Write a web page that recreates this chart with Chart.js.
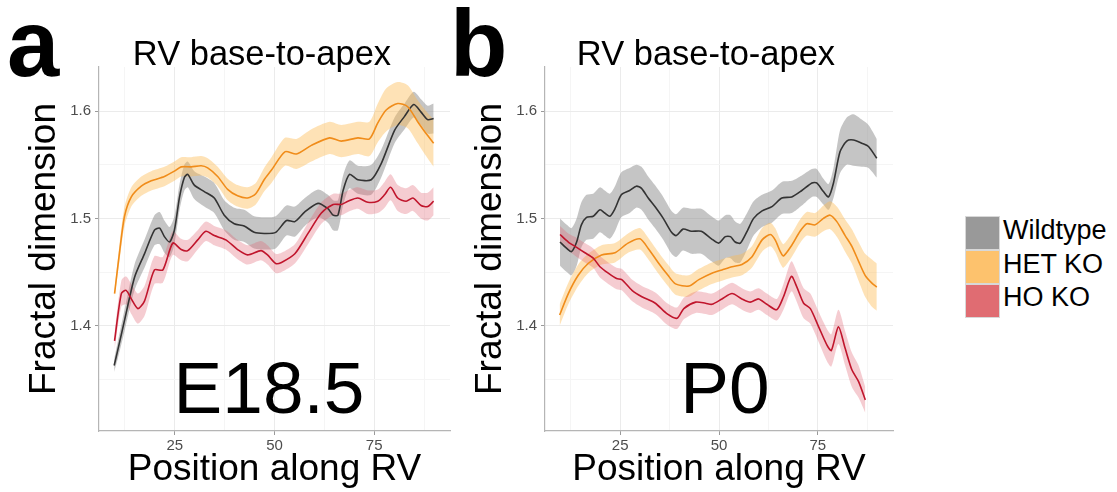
<!DOCTYPE html>
<html><head><meta charset="utf-8">
<script src="https://cdn.jsdelivr.net/npm/chart.js@4/dist/chart.umd.min.js"></script>
<style>
html,body{margin:0;padding:0;background:#fff}
body{width:1117px;height:492px;overflow:hidden;position:relative;font-family:"Liberation Sans",Arial,sans-serif;color:#000}
.t{position:absolute;white-space:nowrap;line-height:1}
canvas{position:absolute;top:0}
.sw{position:absolute;left:965px;width:35px;height:34px;box-sizing:border-box;border:1px solid #d8d8d8}
</style></head><body>

<canvas id="ca" width="460" height="492" style="left:0"></canvas>
<canvas id="cb" width="440" height="492" style="left:470px"></canvas>

<div class="t" style="left:7px;top:-3px;font-size:94px;font-weight:bold">a</div>
<div class="t" style="left:450px;top:-3px;font-size:94px;font-weight:bold">b</div>
<div class="t" style="left:112px;width:300px;text-align:center;top:36px;font-size:34.5px">RV base-to-apex</div>
<div class="t" style="left:556px;width:300px;text-align:center;top:36px;font-size:34.5px">RV base-to-apex</div>
<div class="t" style="left:119px;width:300px;text-align:center;top:351px;font-size:73px">E18.5</div>
<div class="t" style="left:575px;width:300px;text-align:center;top:351px;font-size:73px">P0</div>

<div class="sw" style="top:216px;background:#999999"></div>
<div class="sw" style="top:250px;background:#fdc26d"></div>
<div class="sw" style="top:284px;background:#e06c72"></div>
<div class="t" style="left:1003px;top:217px;font-size:27px">Wildtype</div>
<div class="t" style="left:1003px;top:251px;font-size:27px">HET KO</div>
<div class="t" style="left:1003px;top:284px;font-size:27px">HO KO</div>

<script>
// ---------- Panel a : E18.5 ----------
const aWtX = [9.8,10.75,12.4,14.9,17.4, 19.9,21.2,22.4,23.7,24.9, 26.2,27.4,28.25,29.9,32.4, 34.9,37.4,39.9,42.4,44.9, 47.4,50.3,53,55.1,57.6, 60.9,63.4,64.7,65.9,67.2, 68.8,70.9,74.25,76.75,80.1, 82.6,84.9,86.75,88.4,89.9];
const aWtY = [1.363,1.378,1.405,1.445,1.467, 1.489,1.491,1.483,1.478,1.489, 1.520,1.538,1.541,1.531,1.525, 1.519,1.503,1.495,1.493,1.487, 1.486,1.487,1.498,1.497,1.506, 1.514,1.509,1.503,1.503,1.526, 1.541,1.536,1.536,1.551,1.582, 1.595,1.606,1.599,1.592,1.593];
const aWtSe = [0.006,0.008,0.010,0.012,0.013, 0.014,0.015,0.015,0.014,0.013, 0.012,0.012,0.012,0.013,0.014, 0.014,0.014,0.015,0.015,0.015, 0.015,0.015,0.014,0.014,0.013, 0.013,0.013,0.014,0.014,0.014, 0.013,0.013,0.014,0.013,0.012, 0.012,0.012,0.012,0.013,0.014];

const aHetX = [9.9,11.2,12.4,14.1,16.6, 19.1,22.4,24.9,26.6,29.1, 31.6,33.25,35.75,38.25,40.75, 43.25,45.3,47.4,49.25,52.6, 55.5,59.25,63.8,66.75,70.9, 73.8,75.9,78,80.9,83.4, 85.9,88,89.9];
const aHetY = [1.430,1.470,1.502,1.520,1.530, 1.535,1.539,1.544,1.548,1.548, 1.549,1.547,1.539,1.527,1.521, 1.519,1.523,1.536,1.545,1.562, 1.560,1.568,1.575,1.572,1.575, 1.574,1.589,1.601,1.607,1.604, 1.590,1.579,1.570];
const aHetSe = [0.004,0.008,0.009,0.009,0.009, 0.009,0.009,0.009,0.009,0.009, 0.009,0.009,0.009,0.010,0.010, 0.010,0.010,0.011,0.012,0.013, 0.014,0.015,0.015,0.015,0.015, 0.016,0.018,0.020,0.020,0.020, 0.020,0.021,0.022];

const aHoX = [9.9,11.6,12.8,14.1,15.75, 17.4,19.9,22,24.5,26.6, 28.25,30.75,32.8,34.9,37.8, 40.75,43.25,46.6,48.25,50.3, 51.75,55.1,58.4,61.75,64.7, 66.75,68.4,70.9,73.4,75.9, 77.6,79.1,80.9,83,84.7, 86.75,88.4,89.9];
const aHoY = [1.386,1.430,1.433,1.425,1.416, 1.423,1.452,1.452,1.477,1.471, 1.470,1.480,1.488,1.484,1.480, 1.471,1.466,1.470,1.466,1.458, 1.459,1.467,1.486,1.505,1.513, 1.513,1.516,1.519,1.515,1.516, 1.522,1.529,1.519,1.516,1.519, 1.512,1.511,1.516];
const aHoSe = [0.008,0.012,0.013,0.014,0.014, 0.014,0.013,0.012,0.011,0.010, 0.010,0.009,0.009,0.009,0.009, 0.009,0.009,0.009,0.009,0.009, 0.009,0.009,0.010,0.010,0.010, 0.010,0.010,0.010,0.011,0.011, 0.012,0.012,0.012,0.012,0.012, 0.012,0.013,0.013];

// ---------- Panel b : P0 ----------
const bWtX = [9.8,11.5,12.7,14,15.2, 16.5,18.2,19.9,21.1,22.4, 23.7,25.3,27.4,29.1,30.4, 32.1,33.8,35.9,38,39.2, 40.9,43,45.5,48.1,49.9, 51.6,52.9,54.1,55.4,57.1, 58.75,60.9,63.4,65.9,68.4, 70.95,73.5,74.7,76.4,77.7, 78.95,80.6,82.3,84,86.1, 87.8,89.9];
const bWtY = [1.478,1.472,1.469,1.478,1.494, 1.501,1.502,1.508,1.505,1.502, 1.509,1.522,1.526,1.530,1.528, 1.519,1.511,1.500,1.487,1.484, 1.490,1.488,1.488,1.481,1.477, 1.483,1.483,1.478,1.477,1.488, 1.500,1.507,1.511,1.519,1.520, 1.526,1.533,1.533,1.525,1.520, 1.533,1.562,1.572,1.573,1.570, 1.567,1.556];
const bWtSe = [0.022,0.022,0.022,0.022,0.021, 0.021,0.021,0.021,0.021,0.021, 0.021,0.021,0.021,0.020,0.020, 0.020,0.020,0.020,0.020,0.020, 0.020,0.021,0.021,0.021,0.021, 0.020,0.020,0.019,0.018,0.017, 0.016,0.015,0.015,0.015,0.015, 0.014,0.013,0.013,0.012,0.012, 0.014,0.020,0.022,0.024,0.022, 0.020,0.018];

const bHetX = [9.7,11.9,14.4,16.9,20.3, 23.7,27,30,32.1,34.6, 37.1,39,42.4,44.9,48.2, 50.75,53.3,55.8,58.3,60.9, 62.96,64.2,65.5,66.3,68.4, 70.5,72.2,74.3,76.4,78.1, 79.8,81.9,83.6,85.3,86.95, 88.6,89.9];
const bHetY = [1.410,1.430,1.447,1.458,1.466, 1.468,1.477,1.481,1.472,1.459, 1.447,1.439,1.437,1.443,1.449, 1.452,1.455,1.457,1.464,1.480, 1.485,1.480,1.469,1.465,1.475, 1.488,1.495,1.494,1.500,1.503, 1.497,1.484,1.474,1.460,1.447, 1.440,1.436];
const bHetSe = [0.010,0.010,0.010,0.009,0.009, 0.009,0.009,0.010,0.010,0.010, 0.010,0.010,0.010,0.010,0.010, 0.010,0.010,0.010,0.010,0.011, 0.011,0.011,0.011,0.011,0.011, 0.011,0.011,0.011,0.012,0.013, 0.014,0.015,0.016,0.018,0.020, 0.022,0.022];

const bHoX = [9.8,11.9,14,16.1,18.2, 19.9,22,24.1,25.4,28, 30.5,33.9,36.9,39.4,41.1, 44.1,46.6,48.2,50.75,53.3, 55.8,57.9,60,62.1,64.6, 66.3,68.3,69.7,71.4,73.1, 75.2,77.3,78.4,80.2,81.9, 83.6,85.3,87];
const bHoY = [1.485,1.478,1.473,1.468,1.463, 1.455,1.449,1.444,1.443,1.433, 1.427,1.421,1.411,1.407,1.416, 1.422,1.421,1.420,1.425,1.430, 1.425,1.422,1.425,1.420,1.415, 1.427,1.446,1.436,1.421,1.416, 1.399,1.382,1.377,1.399,1.379, 1.359,1.348,1.331];
const bHoSe = [0.008,0.008,0.009,0.009,0.009, 0.010,0.010,0.010,0.010,0.010, 0.010,0.010,0.010,0.010,0.010, 0.010,0.010,0.010,0.010,0.010, 0.010,0.010,0.010,0.010,0.010, 0.012,0.014,0.014,0.014,0.014, 0.014,0.015,0.015,0.016,0.016, 0.016,0.015,0.012];

const xTickLabels = [25, 50, 75];
const yTickLabels = [1.4, 1.5, 1.6];

const LINE = { wt: '#333333', het: '#f08c1a', ho: '#c0152c' };
const BAND = { wt: 'rgba(140,140,140,0.5)', het: 'rgba(253,185,80,0.42)', ho: 'rgba(225,100,115,0.33)' };

function pts(xs, ys, se, sign) {
  return xs.map((x, i) => ({ x: x, y: ys[i] + (se ? sign * se[i] : 0) }));
}
function lineDs(xs, ys, col) {
  return { data: pts(xs, ys), borderColor: col, borderWidth: 1.6, pointRadius: 0, tension: 0.25, fill: false };
}
function bandDs(xs, ys, se, col) {
  return [
    { data: pts(xs, ys, se, 1), borderWidth: 0, borderColor: 'rgba(0,0,0,0)', pointRadius: 0, tension: 0.25, fill: false },
    { data: pts(xs, ys, se, -1), borderWidth: 0, borderColor: 'rgba(0,0,0,0)', pointRadius: 0, tension: 0.25, fill: '-1', backgroundColor: col }
  ];
}

function isMajorX(v) { return xTickLabels.some(t => Math.abs(t - v) < 1e-6); }
function isMajorY(v) { return yTickLabels.some(t => Math.abs(t - v) < 1e-6); }

function makeChart(id, sets, yWidth, yTitlePad, padRight) {
  const [wx, wy, ws, hx, hy, hs, ox, oy, os] = sets;
  const datasets = [
    lineDs(ox, oy, LINE.ho),
    lineDs(hx, hy, LINE.het),
    lineDs(wx, wy, LINE.wt),
    ...bandDs(ox, oy, os, BAND.ho),
    ...bandDs(hx, hy, hs, BAND.het),
    ...bandDs(wx, wy, ws, BAND.wt)
  ];
  return new Chart(document.getElementById(id), {
    type: 'line',
    data: { datasets },
    options: {
      responsive: false, animation: false, events: [],
      layout: { padding: { top: 67, right: padRight, left: 0, bottom: 0 } },
      plugins: { legend: { display: false }, tooltip: { enabled: false }, filler: { propagate: false } },
      scales: {
        x: {
          type: 'linear', min: 6, max: 94,
          afterFit(s) { s.height = 61; },
          ticks: {
            stepSize: 12.5, includeBounds: false, autoSkip: false, maxRotation: 0, padding: 2,
            color: '#4d4d4d', font: { family: 'Liberation Sans', size: 15 },
            callback: v => isMajorX(v) ? String(Math.round(v)) : ''
          },
          grid: {
            color: c => (c.tick && isMajorX(c.tick.value)) ? '#ebebeb' : '#f5f5f5',
            tickColor: c => (c.tick && isMajorX(c.tick.value)) ? '#9a9a9a' : 'rgba(0,0,0,0)',
            tickLength: 4, lineWidth: 1
          },
          border: { display: true, color: '#b5b5b5', width: 1.2 },
          title: {
            display: true, text: 'Position along RV', color: '#000',
            font: { family: 'Liberation Sans', size: 37, lineHeight: 1 },
            padding: { top: 0, bottom: 4 }
          }
        },
        y: {
          type: 'linear', min: 1.302, max: 1.641,
          afterFit(s) { s.width = yWidth; },
          ticks: {
            stepSize: 0.05, includeBounds: false, autoSkip: false, padding: 4,
            color: '#4d4d4d', font: { family: 'Liberation Sans', size: 15 },
            callback: v => isMajorY(v) ? v.toFixed(1) : ''
          },
          grid: {
            color: c => (c.tick && isMajorY(c.tick.value)) ? '#ebebeb' : '#f5f5f5',
            tickColor: c => (c.tick && isMajorY(c.tick.value)) ? '#9a9a9a' : 'rgba(0,0,0,0)',
            tickLength: 4, lineWidth: 1
          },
          border: { display: true, color: '#b5b5b5', width: 1.2 },
          title: {
            display: true, text: 'Fractal dimension', color: '#000',
            font: { family: 'Liberation Sans', size: 37, lineHeight: 1 },
            padding: { top: yTitlePad, bottom: 0 }
          }
        }
      }
    }
  });
}

makeChart('ca', [aWtX, aWtY, aWtSe, aHetX, aHetY, aHetSe, aHoX, aHoY, aHoSe], 99, 26.5, 10);
makeChart('cb', [bWtX, bWtY, bWtSe, bHetX, bHetY, bHetSe, bHoX, bHoY, bHoSe], 75, 2.5, 17);
</script>
</body></html>
